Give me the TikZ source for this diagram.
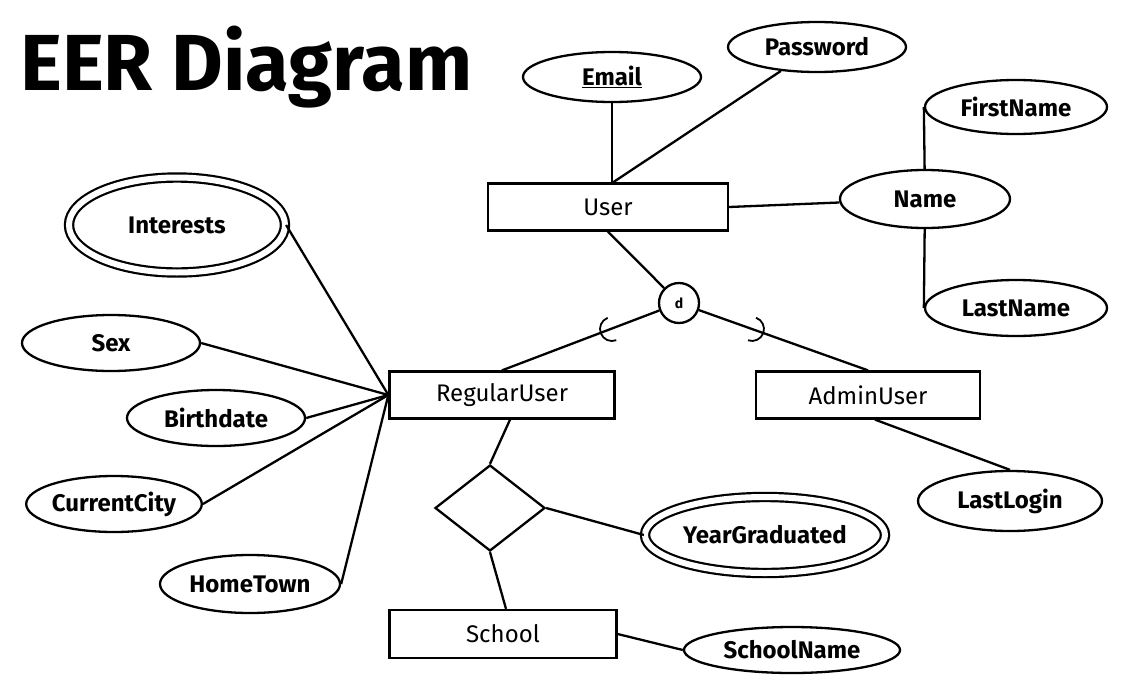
\documentclass[tikz,border=0pt]{standalone}
\usepackage{fontspec}
\setmainfont{Fira Sans}
\usetikzlibrary{shapes.geometric}
\begin{document}
\begin{tikzpicture}[x=1pt,y=-1pt,
  ln/.style={line width=2.3pt},
  ent/.style={draw, line width=2.3pt, rectangle, inner sep=0pt, minimum width=225pt, minimum height=47pt, font=\fontsize{24}{26}\selectfont},
  attr/.style={draw, ellipse, line width=2.3pt, inner sep=0pt, font=\bfseries\fontsize{24}{26}\selectfont},
  multi/.style={attr, double, line width=2.2pt, double distance=6pt},
  subset/.style={line width=1.8pt},
]
\useasboundingbox (0,0) rectangle (1134,688);
\fill[white] (0,0) rectangle (1134,688);

% title
\node[anchor=north west, inner sep=0pt] (title) at (20,26) {\resizebox{452pt}{!}{\bfseries EER Diagram}};

% entities
\node[ent, minimum width=240pt] (user) at (608,207) {User};
\node[ent] (ru) at (502,395) {RegularUser};
\node[ent, minimum width=224pt] (au) at (868,395) {AdminUser};
\node[ent, minimum width=227pt, minimum height=48pt] (school) at (503,634) {School};

% attributes
\node[attr, minimum width=178pt, minimum height=50pt] (email) at (612,77) {\underline{Email}};
\node[attr, minimum width=178pt, minimum height=50pt] (pw) at (817,47) {Password};
\node[attr, minimum width=182pt, minimum height=54pt] (fn) at (1016,107) {FirstName};
\node[attr, minimum width=170pt, minimum height=58pt] (name) at (925,199) {Name};
\node[attr, minimum width=182pt, minimum height=56pt] (lnm) at (1016,308) {LastName};
\node[multi, minimum width=216pt, minimum height=95pt] (interests) at (177,225) {Interests};
\node[attr, minimum width=178pt, minimum height=56pt] (sex) at (111,343) {Sex};
\node[attr, minimum width=178pt, minimum height=56pt] (birth) at (216,418) {Birthdate};
\node[attr, minimum width=175pt, minimum height=56pt] (city) at (114,504) {CurrentCity};
\node[attr, minimum width=180pt, minimum height=58pt] (town) at (250,584) {HomeTown};
\node[multi, minimum width=240pt, minimum height=76pt] (yg) at (765,535) {YearGraduated};
\node[attr, minimum width=184pt, minimum height=60pt] (ll) at (1010,501) {LastLogin};
\node[attr, minimum width=216pt, minimum height=46pt] (sn) at (792,650) {SchoolName};

% specialization circle and relationship
\node[draw, circle, ln, minimum size=40pt, inner sep=0pt, font=\bfseries\fontsize{14}{16}\selectfont] (d) at (679,303) {d};
\node[draw, diamond, ln, minimum width=110pt, minimum height=86pt, inner sep=0pt] (rel) at (490,508) {};

% connectors
\draw[ln] (email) -- (email |- user.north);
\draw[ln] (pw) -- ([xshift=5pt]user.north);
\draw[ln] (name) -- (user.east);
\draw[ln] (name) -- (fn.west);
\draw[ln] (name) -- (lnm.west);
\draw[ln] (user.south) -- (d);
\draw[ln] (d) -- (ru.north);
\draw[ln] (d) -- (au.north);
\draw[ln] ([xshift=7pt]au.south) -- (ll.north);
\draw[ln] (interests.east) -- (ru.west);
\draw[ln] (sex.east) -- (ru.west);
\draw[ln] (birth.east) -- (ru.west);
\draw[ln] (city.east) -- (ru.west);
\draw[ln] (town.east) -- (ru.west);
\draw[ln] ([xshift=8pt]ru.south) -- (rel.north);
\draw[ln] (rel.south) -- ([xshift=3pt]school.north);
\draw[ln] (rel.east) -- (yg.west);
\draw[ln] (school.east) -- (sn.west);

% subset symbols
\draw[subset] (607.7,317.8) .. controls (601.5,320.2) and (598.4,327.1) .. (600.8,333.3)
  .. controls (603.2,339.5) and (610.1,342.6) .. (616.3,340.2);
\draw[subset] (748.0,340.3) .. controls (754.2,342.5) and (761.1,339.2) .. (763.3,333.0)
  .. controls (765.5,326.8) and (762.2,319.9) .. (756.0,317.7);
\end{tikzpicture}
\end{document}
